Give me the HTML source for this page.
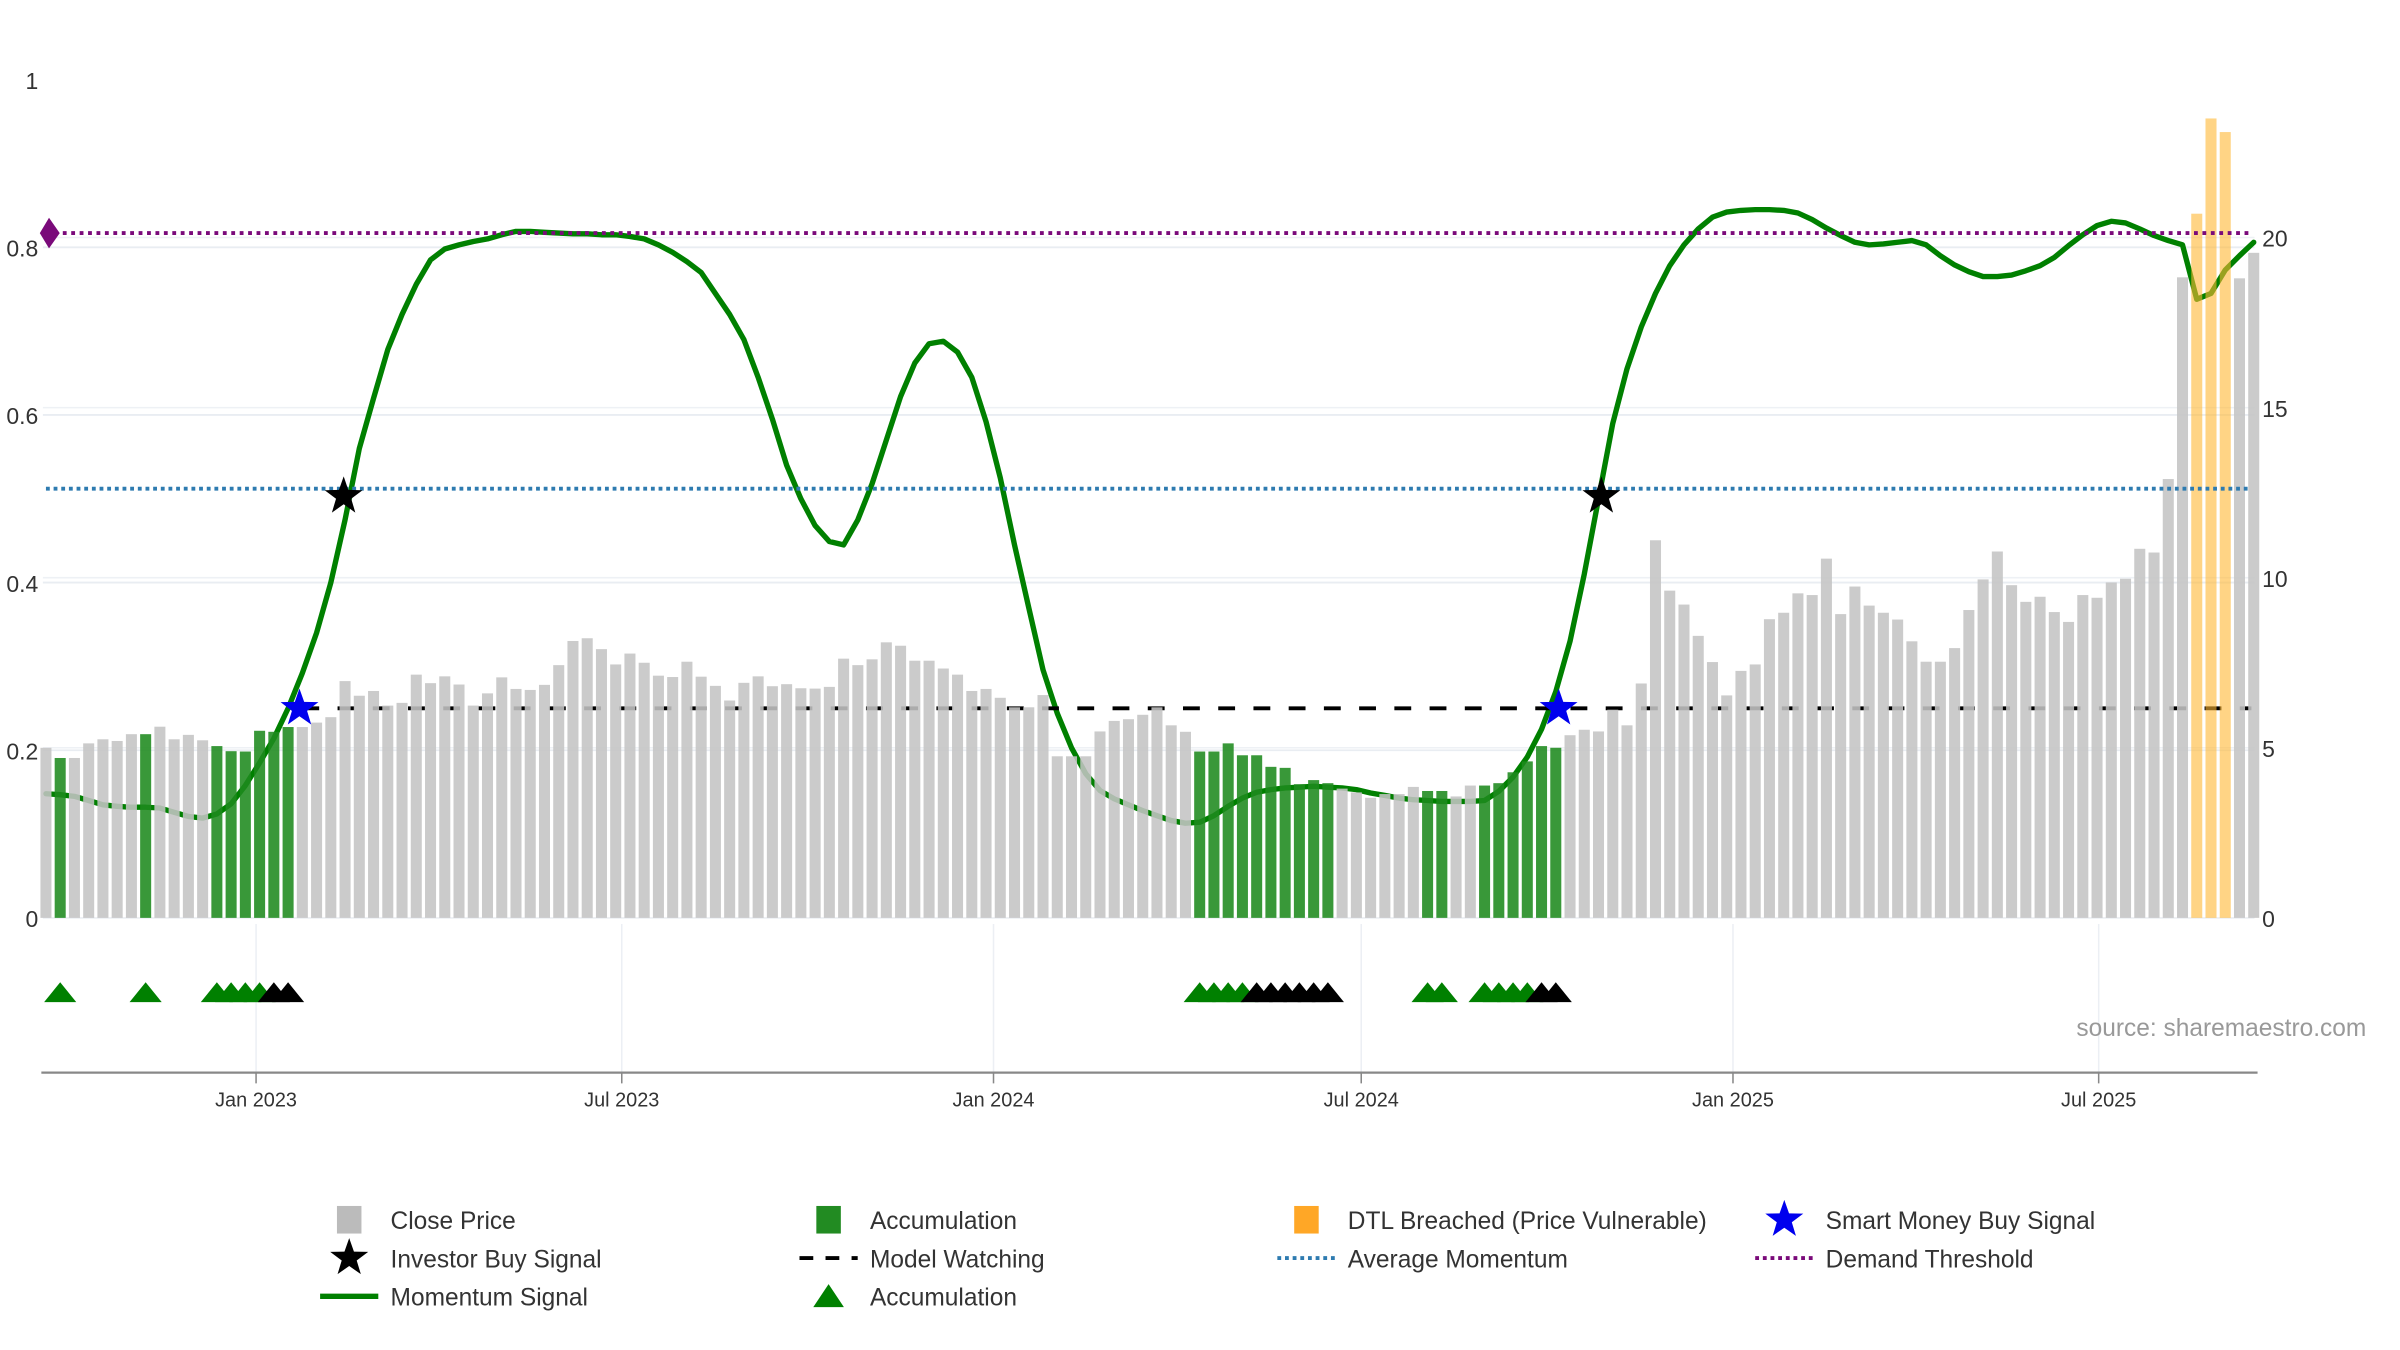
<!DOCTYPE html>
<html><head><meta charset="utf-8"><style>
html,body{margin:0;padding:0;background:#fff;}
svg{display:block;font-family:"Liberation Sans","DejaVu Sans",sans-serif;}
</style></head><body>
<svg id="chart" width="2400" height="1350" viewBox="0 0 1567 881" preserveAspectRatio="none" xmlns="http://www.w3.org/2000/svg">
<g id="grid"></g>
<g id="lines-under"></g>
<g id="bars"></g>
<g id="overlay"></g>
<g id="axes"></g>
<text x="1545" y="676" text-anchor="end" font-size="16" fill="#999">source: sharemaestro.com</text>
<g id="legend"></g>
</svg>
<script>
const closePrice = [5.0,4.7,4.7,5.13,5.25,5.2,5.4,5.4,5.62,5.25,5.38,5.22,5.05,4.9,4.89,5.5,5.47,5.61,5.61,5.74,5.9,6.96,6.53,6.67,6.24,6.32,7.15,6.9,7.1,6.86,6.24,6.6,7.07,6.73,6.7,6.85,7.43,8.14,8.22,7.9,7.45,7.77,7.5,7.12,7.08,7.53,7.09,6.82,6.39,6.91,7.1,6.81,6.87,6.75,6.74,6.79,7.62,7.43,7.6,8.1,8.0,7.56,7.56,7.33,7.15,6.67,6.73,6.47,6.19,6.19,6.55,4.75,4.75,4.75,5.48,5.79,5.84,5.97,6.19,5.66,5.47,4.89,4.89,5.13,4.78,4.78,4.44,4.41,3.93,4.05,3.96,3.8,3.69,3.53,3.64,3.64,3.85,3.73,3.73,3.57,3.89,3.89,3.96,4.28,4.6,5.05,5.0,5.37,5.53,5.48,6.12,5.66,6.89,11.1,9.62,9.21,8.29,7.52,6.54,7.26,7.45,8.78,8.97,9.54,9.49,10.56,8.93,9.74,9.18,8.97,8.77,8.13,7.53,7.53,7.93,9.05,9.95,10.77,9.78,9.29,9.44,8.99,8.7,9.49,9.41,9.86,9.97,10.85,10.74,12.9,18.83,20.7,23.5,23.1,18.8,19.55];
const momentum = [0.148,0.147,0.145,0.14,0.135,0.133,0.132,0.132,0.131,0.126,0.121,0.119,0.124,0.136,0.158,0.185,0.214,0.25,0.292,0.34,0.4,0.475,0.56,0.62,0.678,0.72,0.756,0.785,0.798,0.803,0.807,0.81,0.815,0.819,0.819,0.818,0.817,0.816,0.816,0.815,0.815,0.813,0.81,0.803,0.794,0.783,0.77,0.745,0.72,0.69,0.645,0.595,0.54,0.5,0.468,0.449,0.445,0.475,0.518,0.57,0.622,0.662,0.685,0.688,0.675,0.645,0.592,0.525,0.445,0.37,0.296,0.244,0.203,0.172,0.152,0.142,0.135,0.128,0.122,0.116,0.113,0.114,0.122,0.133,0.143,0.15,0.153,0.155,0.156,0.157,0.156,0.155,0.153,0.149,0.146,0.143,0.141,0.14,0.139,0.139,0.139,0.14,0.151,0.168,0.192,0.225,0.27,0.33,0.41,0.5,0.59,0.655,0.705,0.745,0.778,0.803,0.822,0.836,0.842,0.844,0.845,0.845,0.844,0.841,0.833,0.823,0.814,0.806,0.803,0.804,0.806,0.808,0.803,0.79,0.779,0.771,0.765,0.765,0.767,0.772,0.778,0.788,0.802,0.815,0.826,0.831,0.829,0.822,0.814,0.808,0.803,0.738,0.745,0.773,0.79,0.806];
const accumIdx = [1,7,12,13,14,15,16,17,81,82,83,84,85,86,87,88,89,90,97,98,101,102,103,104,105,106];
const accumTriGreen = [1,7,12,13,14,15,81,82,83,84,97,98,101,102,103,104];
const accumTriBlack = [16,17,85,86,87,88,89,90,105,106];
const dtlIdx = [151,152,153];
const smartIdx = [17.8,106.2];
const investorIdx = [20.9,109.2];
const modelWatchStart = 18;
const modelWatchLevel = 0.25;
const avgMomentum = 0.512;
const demandThreshold = 0.817;
const leftTicks = [0,0.2,0.4,0.6,0.8,1];
const leftTickLabels = ["0","0.2","0.4","0.6","0.8","1"];
const rightTicks = [0,5,10,15,20];
const xTickLabels = ["Jan 2023","Jul 2023","Jan 2024","Jul 2024","Jan 2025","Jul 2025"];
const xTickDates = ["2023-01-01","2023-07-01","2024-01-01","2024-07-01","2025-01-01","2025-07-01"];
const firstBarDate = "2022-09-19";

const NS="http://www.w3.org/2000/svg";
const X0=30, DX=9.3, Y0=599;
const xOf=i=>X0+DX*i;
const yL=v=>Y0-547*v;
const yR=v=>Y0-22.2*v;
const xOfDate=d=>xOf((new Date(d)-new Date(firstBarDate))/86400000/7.05);
function mk(tag,attrs,parent){const e=document.createElementNS(NS,tag);for(const k in attrs)e.setAttribute(k,attrs[k]);parent.appendChild(e);return e;}
const grid=document.getElementById('grid'),under=document.getElementById('lines-under'),bars=document.getElementById('bars'),ov=document.getElementById('overlay'),axes=document.getElementById('axes'),leg=document.getElementById('legend');

leftTicks.filter(v=>v<1).forEach(v=>{const l=mk('line',{x1:28,x2:1472,y1:yL(v),y2:yL(v),stroke:'#e9edf2','stroke-width':1.2},grid);

});
rightTicks.forEach(v=>{const l=mk('line',{x1:28,x2:1472,y1:yR(v),y2:yR(v),stroke:'#eef1f5','stroke-width':1},grid);

});
xTickDates.forEach(d=>{const x=xOfDate(d);const l=mk('line',{x1:x,x2:x,y1:603,y2:700,stroke:'#eceff4','stroke-width':1},grid);

});

const pts=momentum.map((v,i)=>xOf(i).toFixed(1)+','+yL(v).toFixed(1)).join(' ');
const ml=mk('polyline',{points:pts,fill:'none',stroke:'#008000','stroke-width':3.5,'stroke-linejoin':'round','stroke-linecap':'round'},under);


const mw=mk('line',{x1:xOf(modelWatchStart),x2:1470,y1:yL(modelWatchLevel),y2:yL(modelWatchLevel),stroke:'#000','stroke-width':2.5,'stroke-dasharray':'11,12'},under);



closePrice.forEach((v,i)=>{
 let c='#c4c4c4',nm='close-price-bar';
 if(accumIdx.includes(i)){c='#1e8a1e';nm='accumulation-bar';}
 if(dtlIdx.includes(i)){c='#ffb733';nm='dtl-breached-bar';}
 const op=dtlIdx.includes(i)?0.6:0.88;
 const r=mk('rect',{x:xOf(i)-3.6,y:yR(v),width:7.2,height:Y0-yR(v),fill:c,'fill-opacity':op},bars);
 
 
});

const am=mk('line',{x1:30,x2:1470,y1:yL(avgMomentum),y2:yL(avgMomentum),stroke:'#2e7bb0','stroke-width':2.5,'stroke-dasharray':'2.5,2.5'},ov);


const dt=mk('line',{x1:30,x2:1470,y1:yL(demandThreshold),y2:yL(demandThreshold),stroke:'#7a0a7a','stroke-width':2.5,'stroke-dasharray':'2.5,3'},ov);


const dy=yL(demandThreshold);
const dm=mk('polygon',{points:`32,${dy-10} 39,${dy} 32,${dy+10} 26,${dy}`,fill:'#7a0a7a'},ov);



function star(cx,cy,R,fill){const p=[];for(let k=0;k<10;k++){const r=k%2?R*0.4:R;const a=-Math.PI/2+k*Math.PI/5;p.push((cx+r*Math.cos(a)).toFixed(1)+','+(cy+r*Math.sin(a)).toFixed(1));}
return mk('polygon',{points:p.join(' '),fill:fill},ov);}
smartIdx.forEach(i=>{const s=star(xOf(i),yL(modelWatchLevel),13,'#0000ee');

});
investorIdx.forEach(i=>{const s=star(xOf(i),yL(avgMomentum)+5,13,'#000');

});

function tri(x,col){return mk('polygon',{points:`${x-10.5},654 ${x},641 ${x+10.5},654`,fill:col},ov);}
accumTriGreen.forEach(i=>{const t=tri(xOf(i),'#008000');

});
accumTriBlack.forEach(i=>{const t=tri(xOf(i),'#000');

});

const ax=mk('line',{x1:27,x2:1474,y1:700,y2:700,stroke:'#888','stroke-width':1.5},axes);


xTickDates.forEach((d,k)=>{const x=xOfDate(d);
 const t=mk('line',{x1:x,x2:x,y1:700,y2:707,stroke:'#888','stroke-width':1},axes);
 
 
 const tx=mk('text',{x:x,y:722,'text-anchor':'middle','font-size':13,fill:'#333'},axes);tx.textContent=xTickLabels[k];
 
 });
leftTicks.forEach((v,k)=>{const t=mk('text',{x:25,y:yL(v)+6,'text-anchor':'end','font-size':15,fill:'#333'},axes);t.textContent=leftTickLabels[k];
 
 });
rightTicks.forEach(v=>{const t=mk('text',{x:1477,y:yR(v)+6,'font-size':15,fill:'#333'},axes);t.textContent=String(v);
 
 });

const legItems=[
 ['rect','#bbbbbb','Close Price',228,796],['rect','#228b22','Accumulation',541,796],['rect','#ffa726','DTL Breached (Price Vulnerable)',853,796],['star','#0000ee','Smart Money Buy Signal',1165,796],
 ['star','#000','Investor Buy Signal',228,821],['dash','#000','Model Watching',541,821],['dot','#2e7bb0','Average Momentum',853,821],['dot','#7a0a7a','Demand Threshold',1165,821],
 ['line','#008000','Momentum Signal',228,846],['tri','#008000','Accumulation',541,846]];
legItems.forEach(([kind,col,label,x,y])=>{
 const g=mk('g',{},leg);
 
 
 if(kind==='rect')mk('rect',{x:x-8,y:y-9,width:16,height:18,fill:col},g);
 else if(kind==='star'){const s=star(x,y,13,col);g.appendChild(s);}
 else if(kind==='dash')mk('line',{x1:x-19,x2:x+19,y1:y,y2:y,stroke:col,'stroke-width':2.5,'stroke-dasharray':'9,8'},g);
 else if(kind==='dot')mk('line',{x1:x-19,x2:x+19,y1:y,y2:y,stroke:col,'stroke-width':2.5,'stroke-dasharray':'2.5,2.5'},g);
 else if(kind==='line')mk('line',{x1:x-19,x2:x+19,y1:y,y2:y,stroke:col,'stroke-width':3.5},g);
 else if(kind==='tri')mk('polygon',{points:`${x-10},${y+7} ${x},${y-8} ${x+10},${y+7}`,fill:col},g);
 const t=mk('text',{x:x+27,y:y+6,'font-size':16,fill:'#333'},g);t.textContent=label;
});
</script>
</body></html>
